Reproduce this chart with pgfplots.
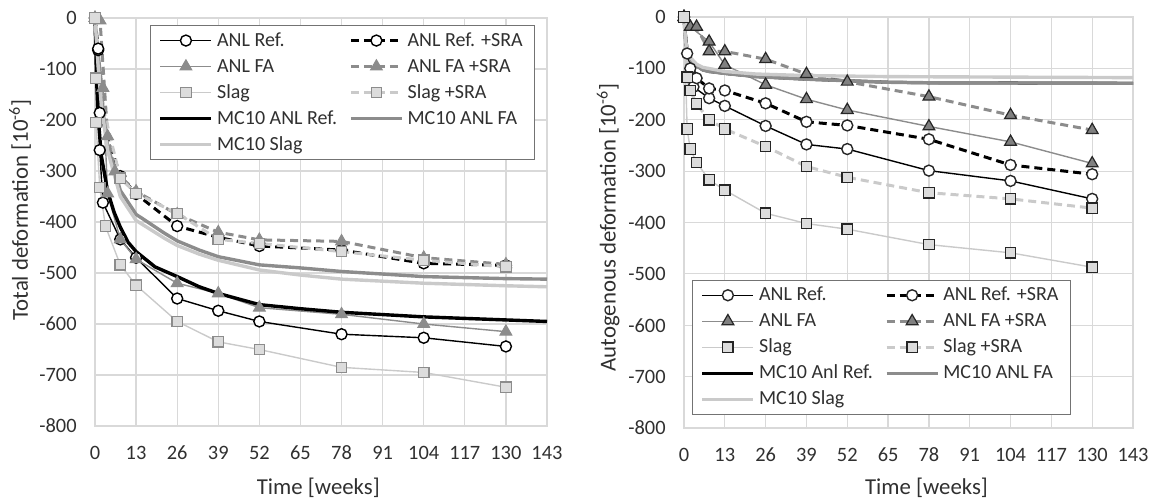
\documentclass[border=0pt]{standalone}
\usepackage{pgfplots}
\pgfplotsset{compat=1.18}
\usepackage{fontspec}
\setmainfont{Carlito}
\definecolor{gridc}{HTML}{D9D9D9}
\definecolor{midg}{HTML}{8C8C8C}
\definecolor{ltg}{HTML}{CACACA}
\definecolor{sqf}{HTML}{DCDCDC}
\definecolor{trf}{HTML}{808080}
\definecolor{edge}{HTML}{262626}
\definecolor{txt}{HTML}{303030}
\pgfplotsset{
  base/.style={
    scale only axis, xmin=0, xmax=143, ymin=-800, ymax=0,
    xtick={0,13,...,143},
    xticklabels={0,13,26,39,52,65,78,91,104,117,130,143},
    ytick={-800,-700,...,0},
    yticklabels={-800,-700,-600,-500,-400,-300,-200,-100,0},
    grid=major, major grid style={gridc, line width=0.6pt},
    axis line style={gridc, line width=0.6pt},
    major tick length=0pt,
    ticklabel style={font=\fontsize{10.2}{12}\selectfont, text=txt},
    xticklabel style={anchor=center, yshift=-13.5pt},
    yticklabel style={anchor=east, inner sep=0pt, xshift=-9pt},
    label style={font=\fontsize{11.4}{13}\selectfont, text=txt},
    clip=false,
    legend columns=2, legend cell align=left,
    legend style={draw=black!55, line width=0.6pt, fill=white,
      font=\fontsize{10}{12}\selectfont, text=txt,
      inner xsep=4pt, inner ysep=1pt,
      nodes={text height=8pt, text depth=2.5pt, inner ysep=1.25pt, inner xsep=2pt},
      /tikz/every even column/.append style={column sep=4pt}},
    legend image code/.code={\draw[mark repeat=2,mark phase=2,##1] plot coordinates {(0pt,0pt) (12.75pt,0pt) (25.5pt,0pt)};},
  },
  refL/.style={black, line width=0.7pt, mark=*, mark size=2.75pt, mark options={fill=white, draw=black, solid, line width=0.7pt}},
  refsraL/.style={black, line width=1.5pt, dash pattern=on 4pt off 2.5pt, mark=*, mark size=2.75pt, mark options={fill=white, draw=black, solid, line width=0.7pt}},
  faL/.style={midg, line width=0.7pt, mark=triangle*, mark size=3.4pt, mark options={fill=midg, draw=midg, solid, line width=0.5pt}},
  fasraL/.style={midg, line width=1.5pt, dash pattern=on 4pt off 2.5pt, mark=triangle*, mark size=3.4pt, mark options={fill=midg, draw=midg, solid, line width=0.5pt}},
  slagL/.style={ltg, line width=0.7pt, mark=square*, mark size=2.6pt, mark options={fill=sqf, draw=midg, solid, line width=0.6pt}},
  slagsraL/.style={ltg, line width=1.5pt, dash pattern=on 4pt off 2.5pt, mark=square*, mark size=2.6pt, mark options={fill=sqf, draw=midg, solid, line width=0.6pt}},
  refR/.style={refL, mark options={fill=white, draw=edge, solid, line width=0.7pt}},
  refsraR/.style={refsraL, mark options={fill=white, draw=edge, solid, line width=0.7pt}},
  faR/.style={faL, mark options={fill=trf, draw=edge, solid, line width=0.6pt}},
  fasraR/.style={fasraL, mark options={fill=trf, draw=edge, solid, line width=0.6pt}},
  slagR/.style={slagL, mark options={fill=sqf, draw=edge, solid, line width=0.6pt}},
  slagsraR/.style={slagsraL, mark options={fill=sqf, draw=edge, solid, line width=0.6pt}},
  mcref/.style={black, line width=1.7pt, no markers},
  mcfa/.style={midg, line width=1.7pt, no markers},
  mcslag/.style={ltg, line width=1.7pt, no markers},
}
\begin{document}
\begin{tikzpicture}
\useasboundingbox (-47.5pt,-37pt) rectangle (528pt,213pt);
% ---------- left: total deformation ----------
\begin{axis}[base, at={(0pt,0pt)}, anchor=south west, width=226pt, height=204pt,
  ylabel={Total deformation [10\textsuperscript{-6}]},
  ylabel style={at={(axis description cs:-0.166,0.53)}, anchor=center},
  xlabel={Time [weeks]},
  xlabel style={at={(axis description cs:0.494,0)}, anchor=center, yshift=-31pt},
  legend style={at={(0.122,0.983)}, anchor=north west}]
\addplot[refL] coordinates {(0,0) (1,-63) (1.5,-259) (2.5,-362) (8,-434) (13,-470) (26,-550) (39,-574) (52,-595) (78,-620) (104,-627) (130,-644)};
\addlegendentry{ANL Ref.}
\addplot[refsraL] coordinates {(0,0) (1,-60) (1.5,-186) (8,-310) (13,-345) (26,-408) (39,-430) (52,-447) (78,-455) (104,-481) (130,-485)};
\addlegendentry{ANL Ref. +SRA}
\addplot[faL] coordinates {(0,0) (2.5,-137) (4,-344) (8,-434) (13,-473) (26,-520) (39,-540) (52,-568) (78,-581) (104,-600) (130,-615)};
\addlegendentry{ANL FA}
\addplot[fasraL] coordinates {(0,0) (1.6,-5) (4,-232) (6.3,-301) (13,-340) (26,-385) (39,-420) (52,-435) (78,-438) (104,-470) (130,-483)};
\addlegendentry{ANL FA +SRA}
\addplot[slagL] coordinates {(0,0) (0.3,-205) (1.5,-332) (3.3,-408) (8,-484) (13,-524) (26,-595) (39,-635) (52,-650) (78,-685) (104,-695) (130,-724)};
\addlegendentry{Slag}
\addplot[slagsraL] coordinates {(0,0) (0.3,-118) (8,-314) (13,-344) (26,-383) (39,-434) (52,-442) (78,-458) (104,-475) (130,-488)};
\addlegendentry{Slag +SRA}
\addplot[mcref] coordinates {(0,0) (0.5,-120) (1,-195) (2,-270) (4,-340) (6,-380) (8,-410) (10.5,-440) (13,-458) (19,-488) (26,-507) (33,-527) (39,-540) (52,-562) (65,-570) (78,-577) (104,-586) (130,-592) (143,-595)};
\addlegendentry{MC10 ANL Ref.}
\addplot[mcfa] coordinates {(0,0) (1,-90) (2,-160) (4,-250) (8,-338) (13,-385) (22,-422) (26,-437) (33,-455) (39,-468) (52,-484) (65,-490) (78,-497) (104,-507) (130,-511) (143,-512)};
\addlegendentry{MC10 ANL FA}
\addplot[mcslag] coordinates {(0,0) (1,-95) (2,-170) (4,-260) (8,-350) (13,-397) (22,-432) (26,-446) (33,-463) (39,-475) (52,-494) (65,-504) (78,-512) (104,-520) (130,-525) (143,-527)};
\addlegendentry{MC10 Slag}
\end{axis}
% ---------- right: autogenous deformation ----------
\begin{axis}[base, at={(294.5pt,-1pt)}, anchor=south west, width=224.5pt, height=205.5pt,
  ylabel={Autogenous deformation [10\textsuperscript{-6}]},
  ylabel style={at={(axis description cs:-0.169,0.488)}, anchor=center},
  xlabel={Time [weeks]},
  xlabel style={at={(axis description cs:0.54,0)}, anchor=center, yshift=-30pt},
  legend style={at={(0.018,0.032)}, anchor=south west}]
\addplot[refR] coordinates {(0,0) (2,-100) (3,-136) (8,-158) (13,-173) (26,-212) (39,-248) (52,-257) (78,-299) (104,-319) (130,-354)};
\addlegendentry{ANL Ref.}
\addplot[refsraR] coordinates {(0,0) (1,-71) (4,-119) (8,-139) (13,-143) (26,-168) (39,-204) (52,-211) (78,-238) (104,-288) (130,-306)};
\addlegendentry{ANL Ref. +SRA}
\addplot[faR] coordinates {(0,0) (2,-19) (8,-48) (13,-93) (26,-132) (39,-160) (52,-181) (78,-213) (104,-243) (130,-285)};
\addlegendentry{ANL FA}
\addplot[fasraR] coordinates {(0,0) (4,-19) (8,-67) (13,-67) (26,-82) (39,-111) (52,-126) (78,-155) (104,-191) (130,-220)};
\addlegendentry{ANL FA +SRA}
\addplot[slagR] coordinates {(0,0) (1,-218) (2,-257) (4,-283) (8,-317) (13,-337) (26,-382) (39,-402) (52,-413) (78,-443) (104,-459) (130,-487)};
\addlegendentry{Slag}
\addplot[slagsraR] coordinates {(0,0) (1,-117) (2,-143) (4,-169) (8,-200) (13,-218) (26,-252) (39,-291) (52,-312) (78,-342) (104,-354) (130,-372)};
\addlegendentry{Slag +SRA}
\addplot[mcref, line width=1.5pt] coordinates {(0,0) (0.3,-30) (0.6,-51) (1,-62) (2.2,-84) (4,-95) (6,-103) (8,-106) (13.4,-110) (23,-116) (39,-121) (52,-124) (65,-127) (78,-128) (143,-129)};
\addlegendentry{MC10 Anl Ref.}
\addplot[mcfa] coordinates {(0,0) (0.3,-30) (0.6,-51) (1,-62) (2.2,-84) (4,-95) (6,-103) (8,-106) (13.4,-110) (23,-116) (39,-121) (52,-124) (65,-127) (78,-128) (143,-129)};
\addlegendentry{MC10 ANL FA}
\addplot[mcslag] coordinates {(0,0) (0.3,-30) (0.6,-50) (1,-60) (2.2,-80) (4,-92) (6,-98) (13,-106) (23,-111) (39,-114) (52,-115) (65,-116) (143,-118)};
\addlegendentry{MC10 Slag}
\end{axis}
\end{tikzpicture}
\end{document}
